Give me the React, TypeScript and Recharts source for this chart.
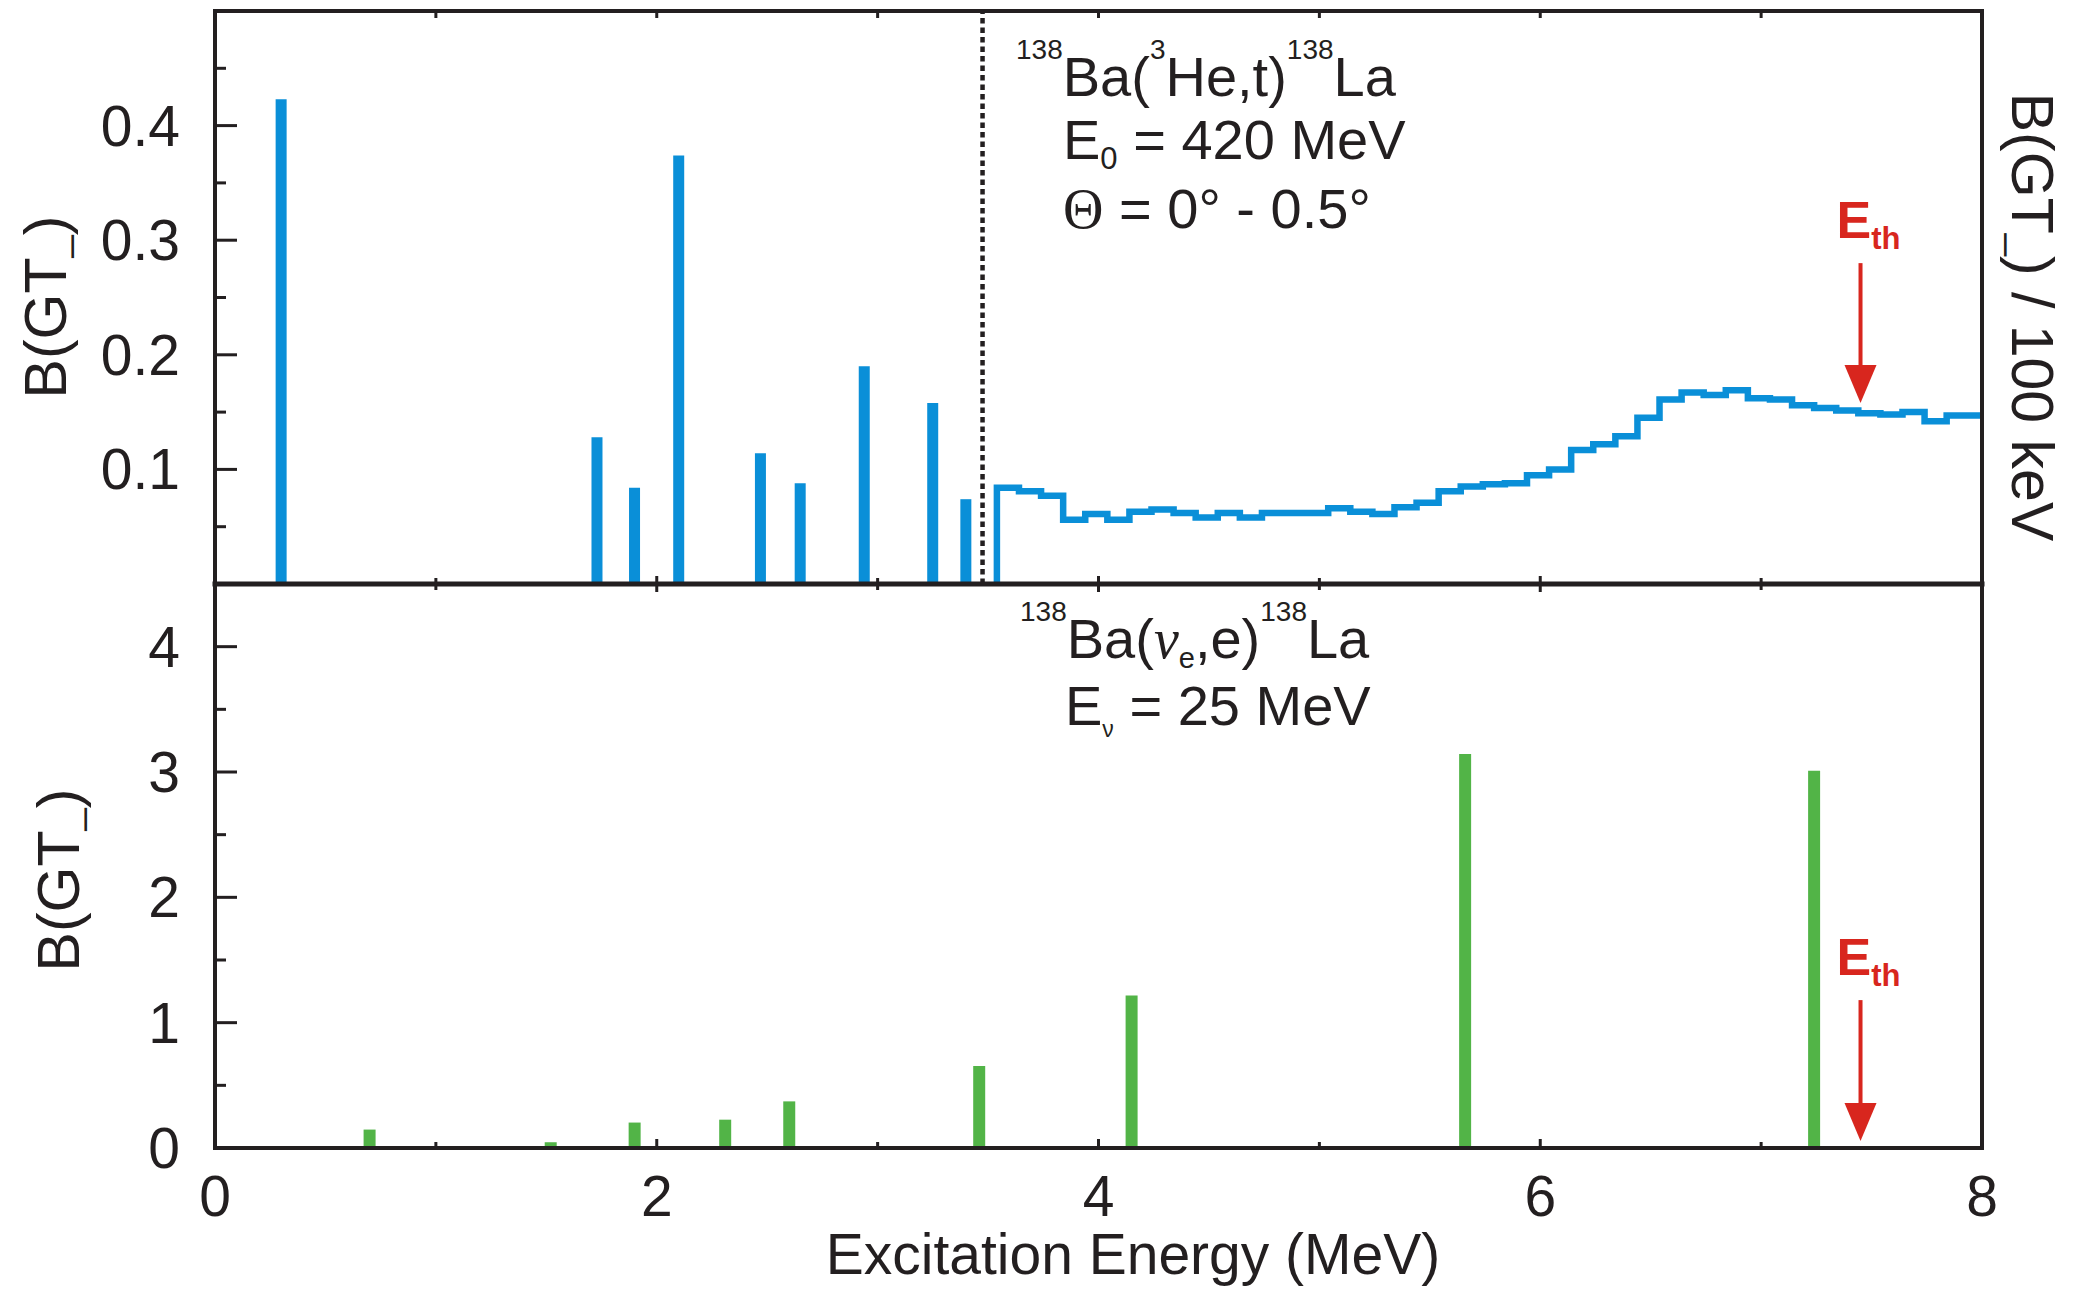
import { Bar, ComposedChart, Line, ReferenceLine, XAxis, YAxis } from "recharts";

// 138Ba(3He,t) — discrete states below the dotted line (MeV, B(GT-))
const heEnergies = [0.3, 1.73, 1.9, 2.1, 2.47, 2.65, 2.94, 3.25, 3.4];
const heStrengths = [0.423, 0.128, 0.084, 0.374, 0.114, 0.088, 0.19, 0.158, 0.074];

// 138Ba(3He,t) — continuum, B(GT-) per 100 keV bin
const histStart = 3.54;
const histBinWidth = 0.1;
const histStrengths = [
  0.084, 0.081, 0.077, 0.056, 0.061, 0.056, 0.063, 0.065, 0.062, 0.058,
  0.062, 0.058, 0.062, 0.062, 0.062, 0.066, 0.063, 0.061, 0.067, 0.071,
  0.081, 0.085, 0.087, 0.088, 0.095, 0.1, 0.117, 0.122, 0.129, 0.145,
  0.161, 0.167, 0.165, 0.169, 0.162, 0.161, 0.156, 0.1535, 0.1515, 0.149,
  0.148, 0.15, 0.142, 0.147, 0.147,
];

// 138Ba(nu_e,e) at E_nu = 25 MeV
const nuEnergies = [0.7, 1.52, 1.9, 2.31, 2.6, 3.46, 4.15, 5.66, 7.24];
const nuStrengths = [0.147, 0.046, 0.203, 0.226, 0.372, 0.654, 1.216, 3.144, 3.009];

const xTicks = [0, 1, 2, 3, 4, 5, 6, 7, 8];
const xTickLabels = [0, 2, 4, 6, 8];
const topTicks = [0, 0.05, 0.1, 0.15, 0.2, 0.25, 0.3, 0.35, 0.4, 0.45, 0.5];
const topTickLabels = [0.1, 0.2, 0.3, 0.4];
const bottomTicks = [0, 0.5, 1, 1.5, 2, 2.5, 3, 3.5, 4, 4.5];
const bottomTickLabels = [0, 1, 2, 3, 4];

const stateCutoff = 3.475;
const thresholdEnergy = 7.45;
const topArrow = [0.28, 0.158];
const bottomArrow = [1.18, 0.056];

const ink = "#231F20";
const blue = "#0A8FD8";
const green = "#52B447";
const red = "#D8261E";

const W = 2074;
const H = 1279;
const plotLeft = 207;
const plotRight = 1974;

const heData = heEnergies.map((e, i) => ({ e, b: heStrengths[i] }));
const histData = [
  { e: histStart, b: 0 },
  ...histStrengths.map((b, i) => ({ e: +(histStart + i * histBinWidth).toFixed(2), b })),
  { e: 8, b: histStrengths[histStrengths.length - 1] },
];
const nuData = nuEnergies.map((e, i) => ({ e, b: nuStrengths[i] }));

const axisLine = { stroke: ink, strokeWidth: 4, strokeLinecap: "square" as const };

const leftTick = (majors: number[]) => (p: any) => {
  const major = majors.includes(p.payload.value);
  return (
    <g>
      <line x1={p.x} x2={p.x + (major ? 22 : 11)} y1={p.y} y2={p.y} stroke={ink} strokeWidth={3} />
      {major && (
        <text x={p.x - 35} y={p.y} textAnchor="end" dominantBaseline="central" fontSize={57} fill={ink}>
          {p.payload.value}
        </text>
      )}
    </g>
  );
};

const rightTick = (majors: number[]) => (p: any) => {
  const major = majors.includes(p.payload.value);
  return <line x1={p.x - (major ? 22 : 11)} x2={p.x} y1={p.y} y2={p.y} stroke={ink} strokeWidth={3} />;
};

const topEdgeTick = (p: any) => (
  <line x1={p.x} x2={p.x} y1={p.y} y2={p.y + 7} stroke={ink} strokeWidth={3} />
);

const middleTick = (p: any) => {
  const len = p.payload.value % 2 === 0 ? 8 : 6;
  return <line x1={p.x} x2={p.x} y1={p.y - len} y2={p.y + len} stroke={ink} strokeWidth={3} />;
};

const bottomTick = (p: any) => {
  const major = xTickLabels.includes(p.payload.value);
  return (
    <g>
      <line x1={p.x} x2={p.x} y1={p.y - (major ? 9 : 6)} y2={p.y} stroke={ink} strokeWidth={3} />
      {major && (
        <text x={p.x} y={p.y + 68} textAnchor="middle" fontSize={57} fill={ink}>
          {p.payload.value}
        </text>
      )}
    </g>
  );
};

const ThresholdArrow = (props: any) => {
  const x = props.x1;
  const top = Math.min(props.y1, props.y2);
  const tip = Math.max(props.y1, props.y2);
  return (
    <g>
      <text x={x - 24} y={top - 25} fill={red} fontSize={52} fontWeight="bold">
        E<tspan fontSize={31} dy={11}>th</tspan>
      </text>
      <line x1={x} x2={x} y1={top} y2={tip - 30} stroke={red} strokeWidth={4} />
      <polygon points={`${x - 16},${tip - 38} ${x + 16},${tip - 38} ${x},${tip}`} fill={red} />
    </g>
  );
};

// axes are 1px wide/high (0 would not be drawn), margins compensate
const TopPanel = () => (
  <ComposedChart
    width={W}
    height={600}
    data={heData}
    margin={{ top: 2, right: W - plotRight - 1, bottom: 23, left: plotLeft - 1 }}
  >
    <XAxis xAxisId="b" dataKey="e" type="number" domain={[0, 8]} ticks={xTicks} interval={0}
      height={1} tickSize={0} tickMargin={0} tickLine={false} tick={middleTick}
      axisLine={{ ...axisLine, strokeWidth: 5 }} allowDataOverflow />
    <XAxis xAxisId="t" orientation="top" dataKey="e" type="number" domain={[0, 8]} ticks={xTicks}
      interval={0} height={1} tickSize={0} tickMargin={0} tickLine={false} tick={topEdgeTick}
      axisLine={axisLine} allowDataOverflow />
    <YAxis yAxisId="l" type="number" domain={[0, 0.5]} ticks={topTicks} interval={0} width={1}
      tickSize={0} tickMargin={0} tickLine={false} tick={leftTick(topTickLabels)} axisLine={axisLine} />
    <YAxis yAxisId="r" orientation="right" type="number" domain={[0, 0.5]} ticks={topTicks}
      interval={0} width={1} tickSize={0} tickMargin={0} tickLine={false}
      tick={rightTick(topTickLabels)} axisLine={axisLine} />
    <ReferenceLine xAxisId="b" yAxisId="l" x={stateCutoff} stroke={ink} strokeWidth={4.5}
      strokeDasharray="5.5 4" />
    <Bar xAxisId="b" yAxisId="l" dataKey="b" barSize={11} fill={blue} isAnimationActive={false} />
    <Line xAxisId="b" yAxisId="l" data={histData} dataKey="b" type="stepAfter" stroke={blue}
      strokeWidth={6.5} dot={false} activeDot={false} isAnimationActive={false} />
    <ReferenceLine xAxisId="b" yAxisId="l"
      segment={[{ x: thresholdEnergy, y: topArrow[0] }, { x: thresholdEnergy, y: topArrow[1] }]}
      shape={ThresholdArrow} />
  </ComposedChart>
);

const BottomPanel = () => (
  <ComposedChart
    width={W}
    height={719}
    data={nuData}
    margin={{ top: 16, right: W - plotRight - 1, bottom: 138, left: plotLeft - 1 }}
  >
    <XAxis xAxisId="b" dataKey="e" type="number" domain={[0, 8]} ticks={xTicks} interval={0}
      height={1} tickSize={0} tickMargin={0} tickLine={false} tick={bottomTick}
      axisLine={axisLine} allowDataOverflow />
    <YAxis yAxisId="l" type="number" domain={[0, 4.5]} ticks={bottomTicks} interval={0} width={1}
      tickSize={0} tickMargin={0} tickLine={false} tick={leftTick(bottomTickLabels)} axisLine={axisLine} />
    <YAxis yAxisId="r" orientation="right" type="number" domain={[0, 4.5]} ticks={bottomTicks}
      interval={0} width={1} tickSize={0} tickMargin={0} tickLine={false}
      tick={rightTick(bottomTickLabels)} axisLine={axisLine} />
    <Bar xAxisId="b" yAxisId="l" dataKey="b" barSize={12} fill={green} isAnimationActive={false} />
    <ReferenceLine xAxisId="b" yAxisId="l"
      segment={[{ x: thresholdEnergy, y: bottomArrow[0] }, { x: thresholdEnergy, y: bottomArrow[1] }]}
      shape={ThresholdArrow} />
  </ComposedChart>
);

const sup = { fontSize: 28 };

const Annotations = () => (
  <svg width={W} height={H} style={{ position: "absolute", left: 0, top: 0, pointerEvents: "none" }}>
    <g fill={ink} fontSize={56}>
      <text x={1008} y={88}>
        <tspan {...sup} dy={-37}>138</tspan>
        <tspan dy={37}>Ba(</tspan>
        <tspan {...sup} dy={-37}>3</tspan>
        <tspan dy={37}>He,t)</tspan>
        <tspan {...sup} dy={-37}>138</tspan>
        <tspan dy={37}>La</tspan>
      </text>
      <text x={1055} y={151}>
        E<tspan fontSize={31} dy={10}>0</tspan>
        <tspan dy={-10}>{" = 420 MeV"}</tspan>
      </text>
      <text x={1055} y={220}>
        <tspan fontFamily="'Liberation Serif', serif">Θ</tspan>
        {" = 0° - 0.5°"}
      </text>

      <text x={1012} y={650}>
        <tspan {...sup} dy={-37}>138</tspan>
        <tspan dy={37}>Ba(</tspan>
        <tspan fontFamily="'Liberation Serif', serif" fontStyle="italic">ν</tspan>
        <tspan fontSize={29} dy={10}>e</tspan>
        <tspan dy={-10}>,e)</tspan>
        <tspan {...sup} dy={-37}>138</tspan>
        <tspan dy={37}>La</tspan>
      </text>
      <text x={1057} y={717}>
        E<tspan fontSize={23} dy={12}>ν</tspan>
        <tspan dy={-12}>{" = 25 MeV"}</tspan>
      </text>
    </g>

    <g fill={ink} fontSize={59}>
      <text x={58} y={299} textAnchor="middle" transform="rotate(-90 58 299)">
        B(GT<tspan fontSize={40}>_</tspan>)
      </text>
      <text x={71} y={872} textAnchor="middle" transform="rotate(-90 71 872)">
        B(GT<tspan fontSize={40}>_</tspan>)
      </text>
      <text x={2004} y={309} textAnchor="middle" transform="rotate(90 2004 309)">
        B(GT<tspan fontSize={40}>_</tspan>) / 100 keV
      </text>
      <text x={1125} y={1266} textAnchor="middle" fontSize={57}>
        Excitation Energy (MeV)
      </text>
    </g>
  </svg>
);

export default function App() {
  return (
    <div
      style={{
        position: "relative",
        width: W,
        height: H,
        background: "#fff",
        fontFamily: "'Liberation Sans', Arial, sans-serif",
      }}
    >
      <div style={{ position: "absolute", left: 0, top: 0 }}>
        <TopPanel />
      </div>
      <div style={{ position: "absolute", left: 0, top: 560 }}>
        <BottomPanel />
      </div>
      <Annotations />
    </div>
  );
}
